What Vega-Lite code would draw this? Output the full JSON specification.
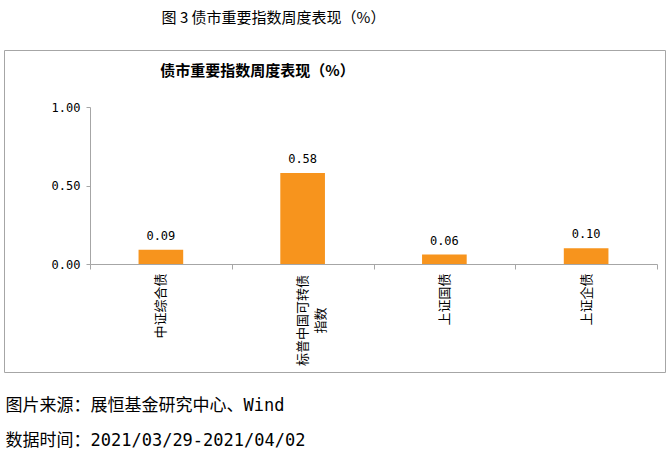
{
  "$schema": "https://vega.github.io/schema/vega-lite/v6.json",
  "width": 661,
  "height": 322,
  "autosize": {"type": "none"},
  "padding": {"left": 4, "top": 50, "right": 6, "bottom": 87},
  "background": "white",
  "title": {
    "text": "图 3 债市重要指数周度表现（%）",
    "font": "Noto Sans CJK SC",
    "fontSize": 15,
    "fontWeight": "normal",
    "color": "#000000",
    "anchor": "middle",
    "dx": -61,
    "offset": 24
  },
  "config": {
    "view": {"stroke": "#A6A6A6", "strokeWidth": 1},
    "axis": {"grid": false}
  },
  "data": {
    "values": [
      {"name": "中证综合债", "value": 0.09},
      {"name": "标普中国可转债指数", "value": 0.58},
      {"name": "上证国债", "value": 0.06},
      {"name": "上证企债", "value": 0.10}
    ]
  },
  "encoding": {
    "x": {
      "field": "name",
      "type": "nominal",
      "sort": null,
      "scale": {"range": [86, 653], "paddingInner": 0, "paddingOuter": 0}
    },
    "y": {
      "field": "value",
      "type": "quantitative",
      "scale": {"domain": [0, 1], "range": [214, 57], "nice": false, "zero": true}
    }
  },
  "layer": [
    {
      "mark": {"type": "bar", "color": "#F7941D", "width": {"band": 0.315}},
      "encoding": {
        "x": {
          "field": "name",
          "type": "nominal",
          "sort": null,
          "axis": {
            "orient": "bottom",
            "offset": -108,
            "title": ["图片来源：展恒基金研究中心、Wind", "数据时间：2021/03/29-2021/04/02"],
            "titleFont": "DejaVu Sans Mono, Noto Sans CJK SC",
            "titleFontSize": 17,
            "titleFontWeight": "normal",
            "titleColor": "#000000",
            "titleAlign": "left",
            "titleAnchor": "start",
            "titleBaseline": "middle",
            "titleLineHeight": 35,
            "titleX": 1,
            "titleY": 141,
            "domainColor": "#A6A6A6",
            "tickColor": "#A6A6A6",
            "tickBand": "extent",
            "tickSize": 5,
            "labelAngle": -90,
            "labelFont": "Noto Sans CJK SC",
            "labelFontSize": 13,
            "labelColor": "#000000",
            "labelBaseline": "middle",
            "labelLineHeight": 18,
            "labelAlign": {"condition": {"test": "datum.value === '标普中国可转债指数'", "value": "center"}, "value": "right"},
            "labelPadding": {"condition": {"test": "datum.value === '标普中国可转债指数'", "value": 51}, "value": 4},
            "labelExpr": "datum.value === '标普中国可转债指数' ? ['标普中国可转债', '指数'] : datum.label"
          }
        },
        "y": {
          "field": "value",
          "type": "quantitative",
          "axis": {
            "orient": "left",
            "offset": -86,
            "title": null,
            "values": [0, 0.5, 1],
            "format": ".2f",
            "labelFont": "DejaVu Sans Mono",
            "labelFontSize": 12,
            "labelColor": "#000000",
            "labelPadding": 6,
            "domainColor": "#A6A6A6",
            "tickColor": "#A6A6A6",
            "tickSize": 4
          }
        }
      }
    },
    {
      "mark": {"type": "text", "baseline": "bottom", "dy": -7, "font": "DejaVu Sans Mono", "fontSize": 12, "color": "#000000"},
      "encoding": {
        "x": {
          "field": "name",
          "type": "nominal",
          "sort": null,
          "axis": {
            "orient": "top",
            "labels": false,
            "ticks": false,
            "domain": false,
            "title": "债市重要指数周度表现（%）",
            "titleFont": "Noto Sans CJK SC",
            "titleFontSize": 15,
            "titleFontWeight": "bold",
            "titleColor": "#000000",
            "titleAlign": "center",
            "titleBaseline": "middle",
            "titleX": 253,
            "titleY": 20
          }
        },
        "text": {"field": "value", "type": "quantitative", "format": ".2f"}
      }
    }
  ],
  "resolve": {"axis": {"x": "independent"}}
}
